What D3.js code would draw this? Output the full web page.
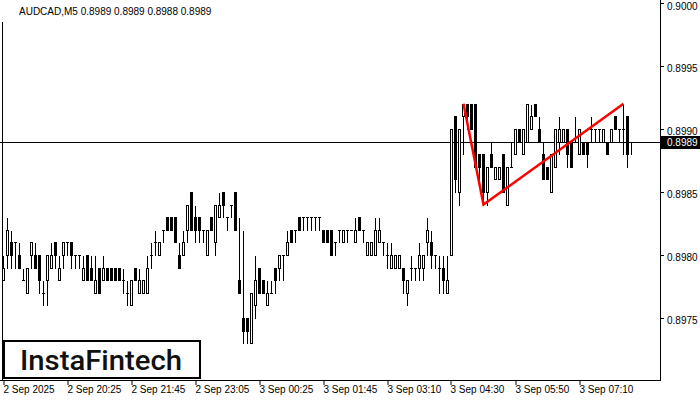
<!DOCTYPE html>
<html><head><meta charset="utf-8">
<script src="https://cdn.jsdelivr.net/npm/d3@7"></script>
<style>html,body{margin:0;padding:0;background:#fff;}svg{display:block;}</style>
</head><body>
<svg id="chart" width="700" height="400"></svg>
<script>
const symbolTitle = "AUDCAD,M5  0.8989 0.8989 0.8988 0.8989";
const opens = [0.8978,0.8980,0.8981,0.8981,0.8980,0.8978,0.8977,0.8980,0.8980,0.8980,
0.8977,0.8978,0.8979,0.8981,0.8978,0.8980,0.8981,0.8981,0.8980,0.8980,
0.8978,0.8980,0.8979,0.8977,0.8979,0.8978,0.8979,0.8979,0.8979,0.8979,
0.8978,0.8977,0.8976,0.8979,0.8977,0.8977,0.8977,0.8980,0.8981,0.8980,
0.8982,0.8983,0.8983,0.8983,0.8980,0.8980,0.8982,0.8985,0.8983,0.8983,
0.8982,0.8980,0.8983,0.8981,0.8983,0.8985,0.8983,0.8984,0.8985,0.8978,
0.8975,0.8975,0.8973,0.8976,0.8979,0.8978,0.8976,0.8977,0.8979,0.8979,
0.8980,0.8980,0.8982,0.8982,0.8983,0.8983,0.8983,0.8983,0.8983,0.8983,
0.8982,0.8982,0.8982,0.8981,0.8982,0.8981,0.8982,0.8982,0.8981,0.8983,
0.8982,0.8980,0.8980,0.8980,0.8981,0.8981,0.8980,0.8979,0.8979,0.8979,
0.8979,0.8977,0.8979,0.8979,0.8979,0.8979,0.8981,0.8981,0.8980,0.8979,
0.8979,0.8977,0.8980,0.8991,0.8985,0.8991,0.8992,0.8992,0.8992,0.8988,
0.8988,0.8985,0.8988,0.8986,0.8986,0.8988,0.8984,0.8987,0.8988,0.8990,
0.8988,0.8989,0.8990,0.8992,0.8990,0.8988,0.8987,0.8985,0.8987,0.8989,
0.8989,0.8990,0.8989,0.8989,0.8988,0.8989,0.8989,0.8990,0.8990,0.8990,
0.8989,0.8989,0.8989,0.8991,0.8990,0.8990,0.8991,0.8989];
const highs = [0.8980,0.8983,0.8982,0.8981,0.8981,0.8979,0.8979,0.8981,0.8981,0.8980,
0.8978,0.8980,0.8981,0.8981,0.8980,0.8981,0.8981,0.8981,0.8980,0.8980,
0.8980,0.8980,0.8980,0.8980,0.8979,0.8980,0.8979,0.8979,0.8979,0.8979,
0.8979,0.8978,0.8978,0.8979,0.8979,0.8978,0.8980,0.8981,0.8982,0.8981,
0.8982,0.8983,0.8983,0.8983,0.8981,0.8982,0.8984,0.8985,0.8984,0.8983,
0.8982,0.8982,0.8983,0.8984,0.8985,0.8985,0.8983,0.8984,0.8985,0.8983,
0.8982,0.8975,0.8977,0.8980,0.8979,0.8978,0.8978,0.8978,0.8979,0.8980,
0.8980,0.8982,0.8982,0.8982,0.8983,0.8983,0.8983,0.8983,0.8983,0.8983,
0.8982,0.8982,0.8982,0.8981,0.8982,0.8982,0.8982,0.8982,0.8983,0.8983,
0.8982,0.8981,0.8981,0.8983,0.8983,0.8981,0.8981,0.8981,0.8980,0.8980,
0.8979,0.8978,0.8980,0.8979,0.8981,0.8980,0.8983,0.8982,0.8980,0.8980,
0.8980,0.8980,0.8990,0.8991,0.8990,0.8992,0.8992,0.8992,0.8992,0.8988,
0.8988,0.8987,0.8989,0.8987,0.8987,0.8988,0.8987,0.8989,0.8990,0.8990,
0.8990,0.8992,0.8992,0.8992,0.8991,0.8989,0.8987,0.8988,0.8990,0.8991,
0.8990,0.8990,0.8989,0.8991,0.8990,0.8989,0.8989,0.8991,0.8990,0.8990,
0.8990,0.8989,0.8990,0.8991,0.8990,0.8992,0.8991,0.8989];
const lows = [0.8978,0.8979,0.8979,0.8979,0.8979,0.8978,0.8977,0.8979,0.8979,0.8977,
0.8976,0.8976,0.8979,0.8979,0.8978,0.8979,0.8980,0.8979,0.8979,0.8979,
0.8978,0.8978,0.8978,0.8977,0.8977,0.8978,0.8978,0.8978,0.8978,0.8978,
0.8977,0.8976,0.8976,0.8978,0.8977,0.8977,0.8977,0.8979,0.8980,0.8980,
0.8981,0.8982,0.8982,0.8981,0.8979,0.8980,0.8981,0.8982,0.8981,0.8981,
0.8981,0.8980,0.8982,0.8980,0.8983,0.8983,0.8982,0.8983,0.8982,0.8977,
0.8973,0.8973,0.8973,0.8975,0.8977,0.8977,0.8976,0.8977,0.8977,0.8978,
0.8978,0.8980,0.8981,0.8981,0.8982,0.8982,0.8982,0.8982,0.8982,0.8982,
0.8981,0.8981,0.8980,0.8980,0.8981,0.8981,0.8981,0.8982,0.8981,0.8982,
0.8981,0.8980,0.8980,0.8980,0.8981,0.8980,0.8979,0.8979,0.8979,0.8979,
0.8977,0.8976,0.8978,0.8978,0.8978,0.8978,0.8980,0.8979,0.8979,0.8977,
0.8977,0.8977,0.8980,0.8985,0.8984,0.8988,0.8990,0.8990,0.8987,0.8986,
0.8984,0.8984,0.8987,0.8986,0.8986,0.8985,0.8984,0.8987,0.8988,0.8989,
0.8988,0.8989,0.8990,0.8991,0.8989,0.8986,0.8986,0.8985,0.8987,0.8988,
0.8989,0.8987,0.8987,0.8989,0.8988,0.8988,0.8987,0.8989,0.8989,0.8989,
0.8989,0.8988,0.8989,0.8990,0.8989,0.8988,0.8987,0.8988];
const closes = [0.8979,0.8982,0.8980,0.8981,0.8979,0.8978,0.8979,0.8981,0.8979,0.8978,
0.8977,0.8980,0.8980,0.8980,0.8979,0.8981,0.8981,0.8980,0.8980,0.8980,
0.8979,0.8978,0.8978,0.8978,0.8977,0.8979,0.8978,0.8978,0.8978,0.8978,
0.8978,0.8977,0.8978,0.8978,0.8978,0.8978,0.8979,0.8980,0.8981,0.8981,
0.8982,0.8982,0.8982,0.8981,0.8979,0.8981,0.8984,0.8982,0.8982,0.8982,
0.8982,0.8982,0.8982,0.8984,0.8984,0.8984,0.8983,0.8984,0.8982,0.8977,
0.8974,0.8974,0.8977,0.8978,0.8977,0.8977,0.8977,0.8977,0.8978,0.8980,
0.8980,0.8981,0.8981,0.8982,0.8982,0.8983,0.8983,0.8983,0.8983,0.8983,
0.8981,0.8981,0.8980,0.8981,0.8982,0.8982,0.8982,0.8982,0.8982,0.8982,
0.8982,0.8981,0.8981,0.8982,0.8982,0.8981,0.8980,0.8980,0.8980,0.8980,
0.8978,0.8978,0.8979,0.8979,0.8980,0.8980,0.8982,0.8980,0.8980,0.8979,
0.8978,0.8978,0.8990,0.8986,0.8990,0.8992,0.8991,0.8990,0.8987,0.8987,
0.8985,0.8987,0.8987,0.8987,0.8987,0.8985,0.8987,0.8987,0.8990,0.8989,
0.8990,0.8992,0.8991,0.8991,0.8989,0.8986,0.8986,0.8988,0.8990,0.8990,
0.8990,0.8988,0.8987,0.8989,0.8990,0.8988,0.8988,0.8990,0.8990,0.8990,
0.8990,0.8988,0.8990,0.8990,0.8990,0.8990,0.8988,0.8989];
const priceTicks = [0.9000,0.8995,0.8990,0.8985,0.8980,0.8975];
const timeTickBars = [0,16,32,48,64,80,96,112,128,144];
const timeTickLabels = ["2 Sep 2025","2 Sep 20:25","2 Sep 21:45","2 Sep 23:05","3 Sep 00:25","3 Sep 01:45","3 Sep 03:10","3 Sep 04:30","3 Sep 05:50","3 Sep 07:10"];
const currentPrice = 0.8989;
const patternBars = [115,120,155];
const patternPrices = [0.8992,0.8984,0.8992];
const logoText = "InstaFintech";

const svg = d3.select("#chart");
const font = "'Liberation Sans', Arial, sans-serif";
const x = d3.scaleLinear().domain([0, 157]).range([3.5, 631.5]);
const y = d3.scaleLinear().domain([0.8975, 0.9000]).range([318, 3]);
const py = p => Math.round(y(p)) + 0.5;

svg.append("rect").attr("width",700).attr("height",400).attr("fill","#fff");

// frame
svg.append("line").attr("x1",660.5).attr("x2",660.5).attr("y1",0).attr("y2",381).attr("stroke","#000");
svg.append("line").attr("x1",0).attr("x2",661).attr("y1",380.5).attr("y2",380.5).attr("stroke","#000");
svg.append("line").attr("x1",2.5).attr("x2",2.5).attr("y1",22).attr("y2",380).attr("stroke","#000");

// header
svg.append("text").attr("x",19).attr("y",15).attr("font-family",font).attr("font-size",10).attr("fill","#000").text(symbolTitle);

// price axis
const pt = svg.append("g");
priceTicks.forEach(p => {
  pt.append("line").attr("x1",660).attr("x2",664).attr("y1",py(p)).attr("y2",py(p)).attr("stroke","#000");
  pt.append("text").attr("x",667).attr("y",Math.max(py(p)+5, 10)).attr("font-family",font).attr("font-size",10).attr("fill","#000").text(d3.format(".4f")(p));
});

// time axis
timeTickBars.forEach((b,k) => {
  const xx = Math.round(x(b));
  svg.append("line").attr("x1",xx).attr("x2",xx).attr("y1",381).attr("y2",385).attr("stroke","#000");
  svg.append("text").attr("x",xx - 0.5).attr("y",393).attr("font-family",font).attr("font-size",10).attr("fill","#000").text(timeTickLabels[k]);
});

// bid line
svg.append("line").attr("x1",0).attr("x2",660).attr("y1",py(currentPrice)).attr("y2",py(currentPrice)).attr("stroke","#000");

// candles
const candles = opens.map((o,i)=>({i,o,h:highs[i],l:lows[i],c:closes[i]}));
const g = svg.append("g");
candles.forEach(d => {
  const cx = x(d.i);
  g.append("line").attr("x1",cx).attr("x2",cx).attr("y1",py(d.h)).attr("y2",py(d.l)+0.5).attr("stroke","#000").attr("shape-rendering","crispEdges");
  const top = py(Math.max(d.o,d.c)), bot = py(Math.min(d.o,d.c));
  if (d.o === d.c) {
    g.append("line").attr("x1",cx-1.5).attr("x2",cx+1.5).attr("y1",top).attr("y2",top).attr("stroke","#000").attr("shape-rendering","crispEdges");
  } else if (d.c > d.o) {
    g.append("rect").attr("x",cx-1).attr("y",top).attr("width",2).attr("height",bot-top).attr("fill","#fff").attr("stroke","#000").attr("shape-rendering","crispEdges");
  } else {
    g.append("rect").attr("x",cx-1.5).attr("y",top-0.5).attr("width",3).attr("height",bot-top+1).attr("fill","#000").attr("shape-rendering","crispEdges");
  }
});

// pattern line
const line = d3.line().x(d=>x(d[0])).y(d=>y(d[1]));
svg.append("path").datum(patternBars.map((b,k)=>[b,patternPrices[k]])).attr("d",line).attr("fill","none").attr("stroke","#ff0000").attr("stroke-width",2.5);

// price label box
svg.append("rect").attr("x",661).attr("y",py(currentPrice)-6.5).attr("width",39).attr("height",13).attr("fill","#000");
svg.append("text").attr("x",667).attr("y",py(currentPrice)+3.5).attr("font-family",font).attr("font-size",10).attr("fill","#fff").text(d3.format(".4f")(currentPrice));

// logo
svg.append("rect").attr("x",4).attr("y",341).attr("width",196).attr("height",37).attr("fill","#fff").attr("stroke","#000").attr("stroke-width",2);
svg.append("text").attr("x",20).attr("y",370).attr("font-family","Roboto, 'Open Sans', sans-serif").attr("font-weight",500).attr("font-size",27).attr("textLength",162).attr("lengthAdjust","spacingAndGlyphs").attr("fill","#111").text(logoText);
</script>
</body></html>
